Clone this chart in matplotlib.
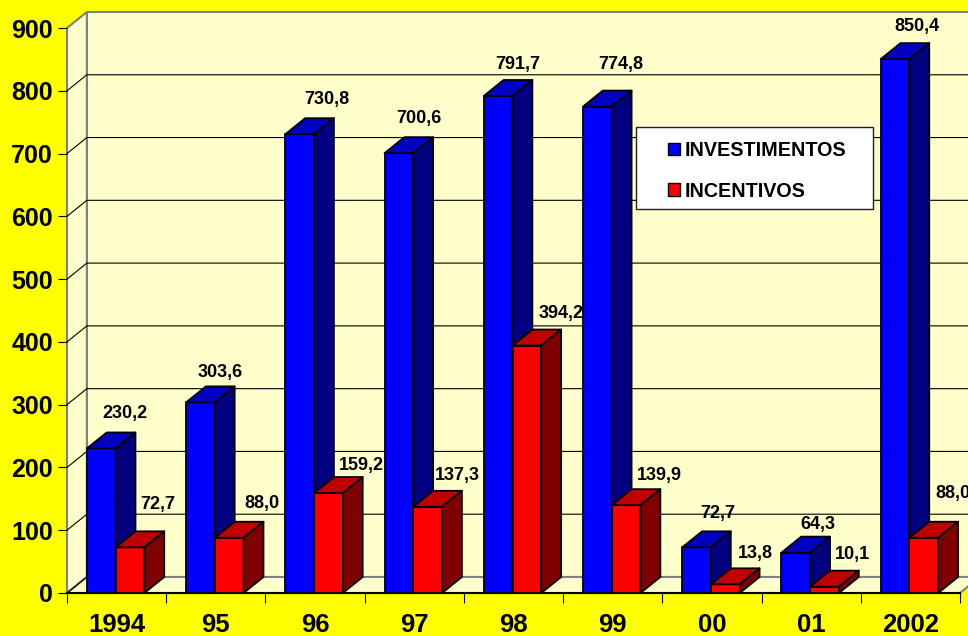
"""
plot.py
Investimentos e incentivos por ano, colunas com efeito 3D.
"""

import matplotlib
matplotlib.use('Agg')
import matplotlib.pyplot as plt
from matplotlib.patches import Patch, Polygon, Rectangle

plt.rcParams['font.family'] = ['Liberation Sans', 'DejaVu Sans']
plt.rcParams['font.weight'] = 'bold'

years = ['1994', '95', '96', '97', '98', '99', '00', '01', '2002']
investimentos = [230.2, 303.6, 730.8, 700.6, 791.7, 774.8, 72.7, 64.3, 850.4]
incentivos = [72.7, 88.0, 159.2, 137.3, 394.2, 139.9, 13.8, 10.1, 88.0]
y_ticks = [0, 100, 200, 300, 400, 500, 600, 700, 800, 900]

# label offsets from the front top centre of each bar, in pixels
inv_offsets = [(24, 35), (20, 30), (27, 35), (20, 35), (20, 31), (23, 42), (21, 34), (22, 28), (22, 33)]
inc_offsets = [(28, 43), (33, 34), (33, 28), (30, 31), (34, 32), (33, 30), (30, 31), (28, 32), (29, 44)]

W, H = 968, 636
LEFT, RIGHT, TOP, BOTTOM = 67, 960, 28, 593
DX, DY = 0.2, 25.5   # depth of the 3D effect, in data units
BAR_W = 0.29

WALL = '#FFFFCC'
GRAY = '#808080'


def bar3d(ax, x, value, front, top, side):
    pts = [
        ([(x, 0), (x + BAR_W, 0), (x + BAR_W, value), (x, value)], front),
        ([(x, value), (x + BAR_W, value), (x + BAR_W + DX, value + DY), (x + DX, value + DY)], top),
        ([(x + BAR_W, 0), (x + BAR_W + DX, DY), (x + BAR_W + DX, value + DY), (x + BAR_W, value)], side),
    ]
    for xy, color in pts:
        ax.add_patch(Polygon(xy, closed=True, facecolor=color, edgecolor='black',
                             linewidth=1.3, joinstyle='round', zorder=4, clip_on=False))


def label(ax, x, value, text, offset):
    ax.annotate(text, xy=(x + BAR_W / 2, value), xytext=(offset[0] * 0.72, offset[1] * 0.72),
                textcoords='offset points', ha='center', va='center', fontsize=13,
                annotation_clip=False, zorder=6)


def main():
    fig = plt.figure(figsize=(W / 100, H / 100), dpi=100, facecolor='#FFFF00')
    ax = fig.add_axes([LEFT / W, 1 - BOTTOM / H, (RIGHT - LEFT) / W, (BOTTOM - TOP) / H])
    ax.set_facecolor('none')
    ax.set_xlim(0, len(years))
    ax.set_ylim(0, 900)
    for spine in ax.spines.values():
        spine.set_visible(False)

    n = len(years)
    # walls and floor
    ax.add_patch(Polygon([(DX, DY), (n + DX, DY), (n + DX, 900 + DY), (DX, 900 + DY)],
                         facecolor=WALL, edgecolor=GRAY, linewidth=1.5, clip_on=False, zorder=1))
    ax.add_patch(Polygon([(0, 0), (DX, DY), (DX, 900 + DY), (0, 900)],
                         facecolor=WALL, edgecolor=GRAY, linewidth=1.5, clip_on=False, zorder=1))
    ax.add_patch(Polygon([(0, 0), (n, 0), (n + DX, DY), (DX, DY)],
                         facecolor=WALL, edgecolor=GRAY, linewidth=1.5, clip_on=False, zorder=1))

    # gridlines, back wall and side wall
    for v in y_ticks[1:-1]:
        ax.plot([0, DX, n + DX], [v, v + DY, v + DY], color='black', linewidth=0.8,
                clip_on=False, zorder=2)
    ax.plot([0, DX], [0, DY], color='black', linewidth=0.8, clip_on=False, zorder=2)
    ax.plot([0, n], [0, 0], color='black', linewidth=1.5, clip_on=False, zorder=3)

    for i in range(n):
        x = i + DX
        bar3d(ax, x, investimentos[i], '#0000FF', '#0000C0', '#000080')
        bar3d(ax, x + BAR_W, incentivos[i], '#FF0000', '#C00000', '#800000')
        label(ax, x, investimentos[i], f'{investimentos[i]:.1f}'.replace('.', ','), inv_offsets[i])
        label(ax, x + BAR_W, incentivos[i], f'{incentivos[i]:.1f}'.replace('.', ','), inc_offsets[i])

    # axes
    ax.set_yticks(y_ticks)
    ax.set_yticklabels([str(v) for v in y_ticks], fontsize=18)
    ax.tick_params(axis='y', length=6.5, width=0.8, pad=3.5, color='black')
    ax.set_xticks(range(n + 1))
    ax.set_xticklabels([])
    ax.tick_params(axis='x', which='major', length=7, width=0.8, color='black')
    ax.set_xticks([i + 0.5 for i in range(n)], minor=True)
    ax.set_xticklabels(years, minor=True, fontsize=18.5)
    ax.tick_params(axis='x', which='minor', length=0, pad=14.5)

    # legend box
    ax.add_patch(Rectangle((636, H - 209), 237, 82, transform=None, facecolor='white',
                           edgecolor='#202020', linewidth=1, zorder=7, clip_on=False))
    handles = [Patch(facecolor='#0000FF', edgecolor='black', linewidth=1),
               Patch(facecolor='#FF0000', edgecolor='black', linewidth=1)]
    leg = ax.legend(handles, ['INVESTIMENTOS', 'INCENTIVOS'], loc='upper left',
                    bbox_to_anchor=(668 / W, 1 - 141 / H), bbox_transform=fig.transFigure,
                    frameon=False, fontsize=14.2, borderpad=0, borderaxespad=0,
                    handlelength=0.62, handleheight=0.62, handletextpad=0.2, labelspacing=1.1)
    leg.set_zorder(8)

    fig.savefig('out.png', dpi=100, facecolor=fig.get_facecolor())


if __name__ == '__main__':
    main()
